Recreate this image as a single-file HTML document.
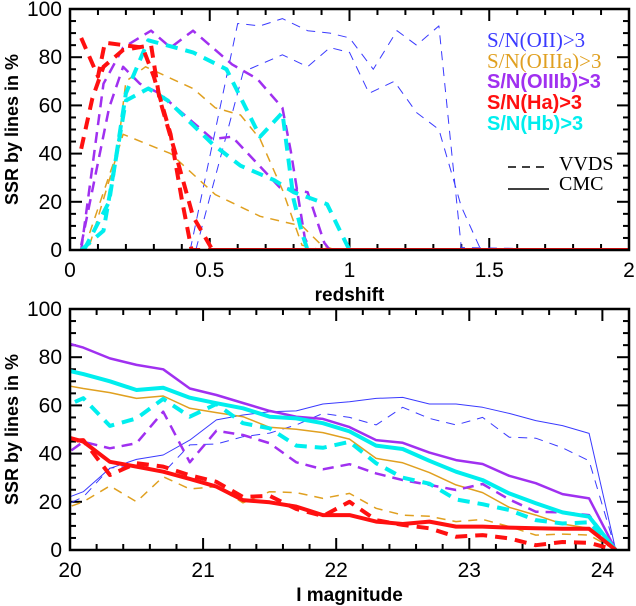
<!DOCTYPE html>
<html><head><meta charset="utf-8"><style>
html,body{margin:0;padding:0;background:#fff;}
svg{display:block;}
</style></head><body>
<svg id="chart" width="636" height="606" viewBox="0 0 636 606" xmlns="http://www.w3.org/2000/svg" font-family="Liberation Sans, sans-serif">
<defs>
<clipPath id="clipTop"><rect x="70" y="9" width="559" height="241"/></clipPath>
<clipPath id="clipBot"><rect x="70" y="309" width="559" height="241"/></clipPath>
</defs>
<g id="topPanel"></g>
<g id="botPanel"></g>
<g>
<text x="487" y="47" fill="#3a3aff" style="font-family:'Liberation Serif',serif;font-size:21px">S/N(OII)&gt;3</text>
<text x="487" y="68" fill="#e0a020" style="font-family:'Liberation Serif',serif;font-size:21px">S/N(OIIIa)&gt;3</text>
<text x="487" y="88" fill="#a030f0" style="font-family:'Liberation Sans',sans-serif;font-size:20px;font-weight:bold">S/N(OIIIb)&gt;3</text>
<text x="487" y="109" fill="#ff1010" style="font-family:'Liberation Sans',sans-serif;font-size:20px;font-weight:bold">S/N(Ha)&gt;3</text>
<text x="487" y="130" fill="#00eeee" style="font-family:'Liberation Sans',sans-serif;font-size:20px;font-weight:bold">S/N(Hb)&gt;3</text>
<line x1="508" y1="167" x2="549" y2="167" stroke="#000" stroke-width="1.5" stroke-dasharray="8,6"/>
<text x="559" y="170" fill="#000" style="font-family:'Liberation Serif',serif;font-size:20px">VVDS</text>
<line x1="508" y1="189" x2="549" y2="189" stroke="#000" stroke-width="1.5"/>
<text x="559" y="190" fill="#000" style="font-family:'Liberation Serif',serif;font-size:20px">CMC</text>
</g>
</svg>
<script>
// ---- Top panel data (redshift) ----
var oiiA_z=[0.43,0.60,0.68,0.76,0.85,0.93,1.00,1.085,1.17,1.24,1.32,1.40,2.0];
var oiiA_v=[0,94,93,96,91,90,88,75,91,85,93,1,0];
var oiiB_z=[0.45,0.62,0.76,0.85,0.93,1.00,1.07,1.16,1.24,1.32,1.40,1.47,2.0];
var oiiB_v=[0,74,81,76,84,82,65,70,57,50,18,0,0];
var oiiiaA_z=[0.07,0.17,0.20,0.27,0.44,0.52,0.61,0.68,0.76,0.83,0.9,2.0];
var oiiiaA_v=[7,41,70,76,67,59,56,46,25,2,0,0];
var oiiiaB_z=[0.07,0.19,0.36,0.52,0.68,0.79,0.83,0.90,0.95,2.0];
var oiiiaB_v=[2,48,40,23,14,11,10,2,0,0];
var oiiibA_z=[0.04,0.12,0.19,0.29,0.36,0.44,0.58,0.67,0.76,0.79,0.84,0.86,2.0];
var oiiibA_v=[0,69,84,91,84,91,77,71,59,41,5,0,0];
var oiiibB_z=[0.04,0.14,0.19,0.25,0.32,0.51,0.58,0.75,0.85,0.91,0.93,2.0];
var oiiibB_v=[2,59,76,69,65,46,47,26,24,3,0,0];
var haA_z=[0.04,0.10,0.125,0.26,0.30,0.36,0.40,0.435,2.0];
var haA_v=[88,72,86,84,72,48,21,0,0];
var haB_z=[0.04,0.08,0.12,0.19,0.29,0.32,0.38,0.44,0.51,2.0];
var haB_v=[42,63,76,83,85,63,39,14,0,0];
var hbA_z=[0.04,0.12,0.20,0.28,0.35,0.51,0.61,0.73,0.80,0.92,0.97,1.0,2.0];
var hbA_v=[0,8,62,67,62,44,35,29,24,19,7,0,0];
var hbB_z=[0.05,0.14,0.20,0.28,0.44,0.56,0.68,0.76,0.80,0.83,0.85,2.0];
var hbB_v=[0,20,65,87,82,75,47,57,21,7,0,0];
var cmcOii_z=[0,0.45];
var cmcOii_v=[0,0];
var topXTicks=[0,0.5,1,1.5,2];
var topXTickLabels=["0","0.5","1","1.5","2"];
var yTicks=[0,20,40,60,80,100];
var yTickLabels=["0","20","40","60","80","100"];

// ---- Bottom panel data (I magnitude) ----
var mags=[19.9,20.1,20.3,20.5,20.7,20.9,21.1,21.3,21.5,21.7,21.9,22.1,22.3,22.5,22.7,22.9,23.1,23.3,23.5,23.7,23.9,24.1];
var cmcOii=[20,24.2,33.9,37.6,39.4,45.6,54,56,57.4,57.7,60.6,61.5,62.9,63.3,60.6,60.6,59.2,56.7,53.7,51.6,48.4,0];
var vvdsOii=[17,22,34,35,32,43.6,44,47,48.5,51.9,56.7,55,51.9,59.2,54.6,51.9,55,46.8,46.4,42.4,37,0];
var cmcOiiia=[69,67,65.3,62.9,63.9,58.8,57,55.3,50.9,50.1,48.7,46,38,36.2,32.1,27,23.8,17.7,14.5,10.8,9,0];
var vvdsOiiia=[16,20,26.6,20,30.4,25.3,26.3,19.6,24.2,23.8,21.4,23.5,17.3,14.5,14,11.8,12.7,9.7,6.2,6.6,6.2,0];
var cmcOiiib=[87,84,79.5,76.8,75,67,64.3,61,57.7,55.3,54.4,51,45.6,44.5,40.4,37.3,35.7,30.8,27.7,23.2,21.4,0];
var vvdsOiiib=[37,44.9,42.2,44.3,57.4,36.4,49.5,47.7,44.3,36.4,33.5,35.6,31.8,29,27,24.9,27.4,21,15.9,15.6,14.5,0];
var cmcHa=[48,45,36.6,34.6,32.5,29.5,26.3,20.7,19.8,18,14.5,14.5,11.8,10.8,11.8,9.7,9.7,9.3,9,8.8,8.8,0];
var vvdsHa=[45,45.6,31.1,36,34.6,31,28.3,22,22.5,17,14.1,20,12.4,10.4,9,5.5,6.2,4.8,2,3.3,3,0];
var cmcHb=[75.5,73,70,66.4,67.3,63.2,60.9,58.8,55.3,54.6,52.6,49.2,43.3,41.9,37,32.5,29,23.5,19.4,15.6,13.8,0];
var vvdsHb=[58,63,51.5,54.6,62.7,55.3,60.6,52.6,50.5,43.3,42.4,44.9,36,30,27.5,21,19,16.6,12.4,11,11.5,0];
var botXTicks=[20,21,22,23,24];
var botXTickLabels=["20","21","22","23","24"];

var NS="http://www.w3.org/2000/svg";
var C={oii:"#3a3aff",oiiia:"#e0a020",oiiib:"#a030f0",ha:"#ff1010",hb:"#00eeee"};

function mk(tag,attrs,parent){var e=document.createElementNS(NS,tag);for(var k in attrs)e.setAttribute(k,attrs[k]);parent.appendChild(e);return e;}

function panel(g,T,xmin,xmax,xTicks,xLabels,minorStep,majorStep,xTitle,clipId){
  var L=70,R=629,B=T+241;
  var sx=function(v){return L+(v-xmin)/(xmax-xmin)*(R-L);};
  var sy=function(v){return B-v/100*(B-T);};
  var ticks=mk("g",{},g);
  
  
  var n=Math.round((xmax-xmin)/minorStep);
  for(var i=0;i<=n;i++){
    var v=xmin+i*minorStep;
    var r=v/majorStep;
    var isMaj=Math.abs(r-Math.round(r))<1e-6;
    var len=isMaj?12:6;var x=sx(v);
    mk("line",{x1:x,y1:B,x2:x,y2:B-len,stroke:"#000","stroke-width":2},ticks);
    mk("line",{x1:x,y1:T,x2:x,y2:T+len,stroke:"#000","stroke-width":2},ticks);
  }
  for(var y=0;y<=100;y+=5){
    var len2=(y%20==0)?12:6;var yy=sy(y);
    mk("line",{x1:L,y1:yy,x2:L+len2,y2:yy,stroke:"#000","stroke-width":2},ticks);
    mk("line",{x1:R,y1:yy,x2:R-len2,y2:yy,stroke:"#000","stroke-width":2},ticks);
  }
  for(var k=0;k<xTicks.length;k++){
    var t=mk("text",{x:sx(xTicks[k]),y:B+27,"text-anchor":"middle",style:"font-size:21px"},g);
    
    
    t.textContent=xLabels[k];
  }
  for(var j=0;j<yTicks.length;j++){
    var t2=mk("text",{x:L-8,y:sy(yTicks[j])+7,"text-anchor":"end",style:"font-size:21px"},g);
    
    
    t2.textContent=yTickLabels[j];
  }
  var xt=mk("text",{x:(L+R)/2,y:B+51,"text-anchor":"middle",style:"font-size:19px;font-weight:bold"},g);
  
  
  xt.textContent=xTitle;
  var yt=mk("text",{x:0,y:0,"text-anchor":"middle",style:"font-size:18px;font-weight:bold",transform:"translate(18,"+((T+B)/2)+") rotate(-90)"},g);
  
  
  yt.textContent="SSR by lines in %";
  var series=mk("g",{"clip-path":"url(#"+clipId+")"},g);
  
  
  var frame=mk("rect",{x:L,y:T,width:R-L,height:B-T,fill:"none",stroke:"#000","stroke-width":2.5},g);
  
  
  return {sx:sx,sy:sy,g:series};
}

function line(p,xs,vs,color,w,dash,name){
  var d="";
  for(var i=0;i<xs.length;i++){d+=(i?"L":"M")+p.sx(xs[i]).toFixed(1)+","+p.sy(vs[i]).toFixed(1);}
  var a={d:d,fill:"none",stroke:color,"stroke-width":w,"stroke-linejoin":"round"};
  if(dash)a["stroke-dasharray"]=dash;
  var e=mk("path",a,p.g);
  
  
}

var topP=panel(document.getElementById("topPanel"),9,0,2,topXTicks,topXTickLabels,0.1,0.5,"redshift","clipTop");
line(topP,cmcOii_z,cmcOii_v,C.oii,2,null,"cmc-oii-line");
line(topP,oiiA_z,oiiA_v,C.oii,1,"9,7","vvds-oii-line-a");
line(topP,oiiB_z,oiiB_v,C.oii,1,"9,7","vvds-oii-line-b");
line(topP,oiiiaA_z,oiiiaA_v,C.oiiia,1.5,"9,7","vvds-oiiia-line-a");
line(topP,oiiiaB_z,oiiiaB_v,C.oiiia,1.5,"9,7","vvds-oiiia-line-b");
line(topP,oiiibA_z,oiiibA_v,C.oiiib,2.5,"11,7","vvds-oiiib-line-a");
line(topP,oiiibB_z,oiiibB_v,C.oiiib,2.5,"11,7","vvds-oiiib-line-b");
line(topP,hbA_z,hbA_v,C.hb,4,"12,8","vvds-hb-line-a");
line(topP,hbB_z,hbB_v,C.hb,4,"12,8","vvds-hb-line-b");
line(topP,haA_z,haA_v,C.ha,4,"12,8","vvds-ha-line-a");
line(topP,haB_z,haB_v,C.ha,4,"12,8","vvds-ha-line-b");

var botP=panel(document.getElementById("botPanel"),309,20,24.2,botXTicks,botXTickLabels,0.2,1,"I magnitude","clipBot");
line(botP,mags,cmcOii,C.oii,1,null,"cmc-oii-line");
line(botP,mags,vvdsOii,C.oii,1,"9,7","vvds-oii-line");
line(botP,mags,vvdsOiiia,C.oiiia,1.5,"9,7","vvds-oiiia-line");
line(botP,mags,cmcOiiia,C.oiiia,1.5,null,"cmc-oiiia-line");
line(botP,mags,vvdsOiiib,C.oiiib,2.5,"11,7","vvds-oiiib-line");
line(botP,mags,cmcOiiib,C.oiiib,2.5,null,"cmc-oiiib-line");
line(botP,mags,vvdsHb,C.hb,4,"12,8","vvds-hb-line");
line(botP,mags,cmcHb,C.hb,4,null,"cmc-hb-line");
line(botP,mags,vvdsHa,C.ha,4,"12,8","vvds-ha-line");
line(botP,mags,cmcHa,C.ha,4,null,"cmc-ha-line");
</script>
</body></html>
